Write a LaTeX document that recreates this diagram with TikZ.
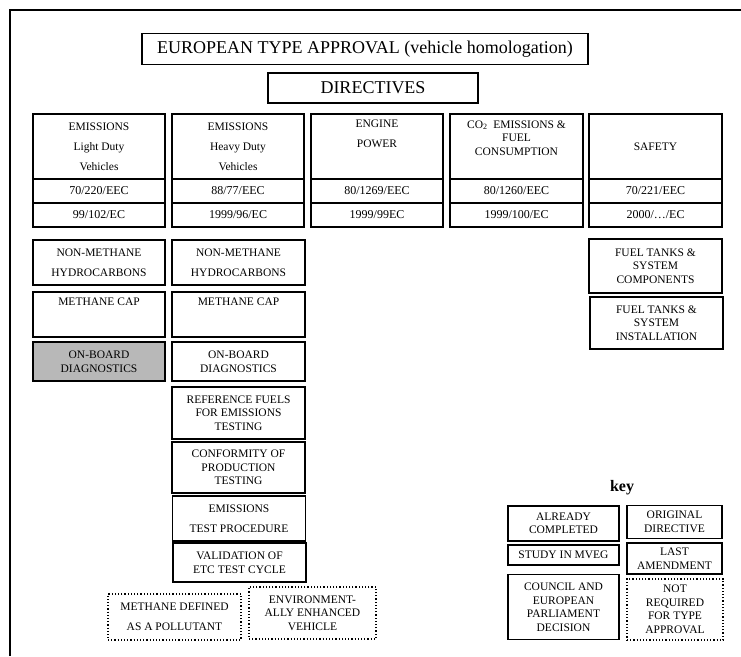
\documentclass[tikz,border=0pt]{standalone}
\usepackage{fontspec}
\setmainfont{Liberation Serif}
\begin{document}
\begin{tikzpicture}[x=1pt,y=-1pt,
  box/.style={draw=black, line width=1.2pt, inner sep=0pt, outer sep=0pt, align=center, text=black,
              font={\fontsize{11.5}{20}\selectfont}},
  thick box/.style={box, line width=1.7pt},
  tight/.style={font={\fontsize{11.5}{13.5}\selectfont}},
  loose/.style={font={\fontsize{11.5}{20}\selectfont}},
  hdr/.style={font={\fontsize{11.5}{20}\selectfont}},
  code/.style={font={\fontsize{12}{13}\selectfont}},
  notreq/.style={box, dotted, line width=1.2pt},
  big/.style={box, line width=1.4pt, font={\fontsize{18}{20}\selectfont}},
  shaded/.style={fill=black!28}
]
\useasboundingbox (0,0) rectangle (741,656);
% frame
\draw[line width=2pt] (10,656) -- (10,10) -- (741,10);

% titles
\node[big, minimum width=446pt, minimum height=31pt] (title) at (365,49) {EUROPEAN TYPE APPROVAL (vehicle homologation)};
\node[big, minimum width=210pt, minimum height=30pt] (dir) at (373,88) {DIRECTIVES};

% column headers
\node[box, hdr, minimum width=132pt, minimum height=65pt] (h1) at (99,146.5) {EMISSIONS\\Light Duty\\Vehicles};
\node[box, hdr, minimum width=132pt, minimum height=65pt] (h2) at (238,146.5) {EMISSIONS\\Heavy Duty\\Vehicles};
\node[box, hdr, minimum width=132pt, minimum height=65pt] (h3) at (377,146.5) {ENGINE\\POWER\\\strut};
\node[box, tight, minimum width=133pt, minimum height=65pt] (h4) at (516.5,146.5) {CO\textsubscript{2}\ \ EMISSIONS \&\\FUEL\\CONSUMPTION\\\strut};
\node[box, hdr, minimum width=133pt, minimum height=65pt] (h5) at (655.5,146.5) {SAFETY};

% codes row 1
\node[box, code, minimum width=132pt, minimum height=24pt] (a1) at (99,191) {70/220/EEC};
\node[box, code, minimum width=132pt, minimum height=24pt] (a2) at (238,191) {88/77/EEC};
\node[box, code, minimum width=132pt, minimum height=24pt] (a3) at (377,191) {80/1269/EEC};
\node[box, code, minimum width=133pt, minimum height=24pt] (a4) at (516.5,191) {80/1260/EEC};
\node[box, code, minimum width=133pt, minimum height=24pt] (a5) at (655.5,191) {70/221/EEC};
% codes row 2
\node[box, code, minimum width=132pt, minimum height=24pt] (b1) at (99,215) {99/102/EC};
\node[box, code, minimum width=132pt, minimum height=24pt] (b2) at (238,215) {1999/96/EC};
\node[box, code, minimum width=132pt, minimum height=24pt] (b3) at (377,215) {1999/99EC};
\node[box, code, minimum width=133pt, minimum height=24pt] (b4) at (516.5,215) {1999/100/EC};
\node[box, code, minimum width=133pt, minimum height=24pt] (b5) at (655.5,215) {2000/\dots/EC};

% column 1
\node[thick box, loose, minimum width=132pt, minimum height=45pt] (nm1) at (99,262.5) {NON-METHANE\\HYDROCARBONS};
\node[thick box, loose, minimum width=132pt, minimum height=45pt] (mc1) at (99,314.5) {METHANE CAP\\\strut};
\node[box, tight, shaded, minimum width=132pt, minimum height=39pt] (ob1) at (99,361.5) {ON-BOARD\\DIAGNOSTICS};

% column 2
\node[box, loose, minimum width=133pt, minimum height=45pt] (nm2) at (238.5,262.5) {NON-METHANE\\HYDROCARBONS};
\node[box, loose, minimum width=133pt, minimum height=45pt] (mc2) at (238.5,314.5) {METHANE CAP\\\strut};
\node[box, tight, minimum width=133pt, minimum height=39pt] (ob2) at (238.5,361.5) {ON-BOARD\\DIAGNOSTICS};
\node[thick box, tight, minimum width=133pt, minimum height=52pt] (rf) at (238.5,413) {REFERENCE FUELS\\FOR EMISSIONS\\TESTING};
\node[thick box, tight, minimum width=133pt, minimum height=51pt] (cp) at (238.5,467.5) {CONFORMITY OF\\PRODUCTION\\TESTING};
\node[thick box, loose, minimum width=133pt, minimum height=45pt] (tp) at (239,518.5) {EMISSIONS\\TEST PROCEDURE};
\node[thick box, tight, minimum width=133pt, minimum height=39pt] (vl) at (239.5,562.5) {VALIDATION OF\\ETC TEST CYCLE};

% not required boxes
\node[notreq, loose, minimum width=133pt, minimum height=46pt] (md) at (174.5,617) {METHANE DEFINED\\AS A POLLUTANT};
\node[notreq, tight, minimum width=127pt, minimum height=52pt] (ev) at (312.5,613) {ENVIRONMENT-\\ALLY ENHANCED\\VEHICLE};

% safety column
\node[box, tight, minimum width=133pt, minimum height=54pt] (ftc) at (655.5,266) {FUEL TANKS \&\\SYSTEM\\COMPONENTS};
\node[box, tight, minimum width=133pt, minimum height=52pt] (fti) at (656.5,323) {FUEL TANKS \&\\SYSTEM\\INSTALLATION};

% key
\node[font={\fontsize{16}{18}\selectfont\bfseries}, inner sep=0pt] (key) at (622,488) {key};
\node[box, tight, minimum width=111pt, minimum height=35pt] (k1) at (563.5,523.5) {ALREADY\\COMPLETED};
\node[box, tight, minimum width=95pt, minimum height=33pt] (k2) at (674.5,522) {ORIGINAL\\DIRECTIVE};
\node[thick box, tight, minimum width=111pt, minimum height=20pt] (k3) at (563.5,555) {STUDY IN MVEG};
\node[thick box, tight, minimum width=95pt, minimum height=31pt] (k4) at (674.5,558.5) {LAST\\AMENDMENT};
\node[thick box, tight, minimum width=111pt, minimum height=65pt] (k5) at (563.5,607) {COUNCIL AND\\EUROPEAN\\PARLIAMENT\\DECISION};
\node[notreq, tight, minimum width=96pt, minimum height=61pt] (k6) at (675,609.5) {NOT\\REQUIRED\\FOR TYPE\\APPROVAL};
\end{tikzpicture}
\end{document}
